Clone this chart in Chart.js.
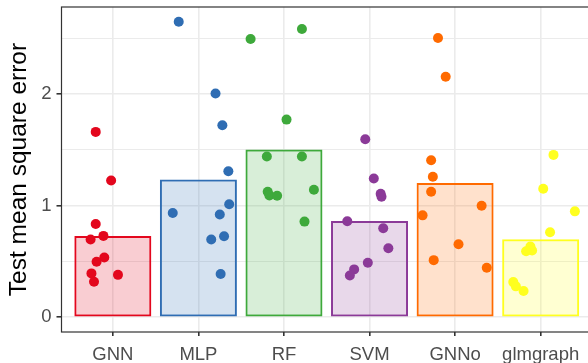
<!DOCTYPE html>
<html>
<head>
<meta charset="utf-8">
<script src="https://cdn.jsdelivr.net/npm/chart.js@4/dist/chart.umd.min.js"></script>
<style>
  html, body { margin: 0; padding: 0; background: #fff; overflow: hidden; }
  #wrap { width: 600px; height: 363px; }
</style>
</head>
<body>
<div id="wrap"><canvas id="c" width="600" height="363"></canvas></div>
<script>
// Model names along the x axis
const categories = ['GNN', 'MLP', 'RF', 'SVM', 'GNNo', 'glmgraph'];

// Mean test error per model (bar heights)
const barValues = [0.729, 1.235, 1.503, 0.863, 1.202, 0.699];

// Test error of each individual run, per model
const gnnRuns      = [1.661, 1.226, 0.836, 0.729, 0.696, 0.536, 0.497, 0.393, 0.380, 0.318];
const mlpRuns      = [2.648, 0.934, 2.005, 1.720, 1.309, 1.012, 0.920, 0.696, 0.726, 0.387];
const rfRuns       = [2.494, 2.583, 1.771, 1.440, 1.440, 1.125, 1.092, 1.089, 1.143, 0.857];
const svmRuns      = [1.595, 1.244, 1.107, 1.080, 0.860, 0.797, 0.619, 0.488, 0.429, 0.375];
const gnnoRuns     = [2.503, 2.155, 1.407, 1.259, 1.125, 1.000, 0.913, 0.654, 0.512, 0.443];
const glmgraphRuns = [1.455, 1.152, 0.949, 0.762, 0.634, 0.598, 0.592, 0.315, 0.277, 0.235];

// Horizontal jitter of each run around its category (in category units)
const gnnJitter      = [-0.20, -0.02, -0.20, -0.11, -0.26, -0.10, -0.19, -0.25, 0.06, -0.22];
const mlpJitter      = [-0.23, -0.30, 0.20, 0.28, 0.35, 0.36, 0.25, 0.15, 0.30, 0.26];
const rfJitter       = [-0.39, 0.21, 0.03, -0.20, 0.21, -0.19, -0.17, -0.08, 0.35, 0.24];
const svmJitter      = [-0.05, 0.05, 0.13, 0.14, -0.26, 0.16, 0.22, -0.02, -0.18, -0.23];
const gnnoJitter     = [-0.20, -0.11, -0.28, -0.26, -0.28, 0.31, -0.38, 0.04, -0.25, 0.37];
const glmgraphJitter = [0.15, 0.03, 0.40, 0.11, -0.12, -0.10, -0.17, -0.32, -0.29, -0.20];

// Y axis labelled ticks and minor gridlines
const yMajorTicks = [0, 1, 2];
const yMinorTicks = [0.5, 1.5, 2.5];

const runs = [gnnRuns, mlpRuns, rfRuns, svmRuns, gnnoRuns, glmgraphRuns];
const jitter = [gnnJitter, mlpJitter, rfJitter, svmJitter, gnnoJitter, glmgraphJitter];

const lineColors = ['#E3071D', '#2F6DB3', '#3EA93B', '#8B3A98', '#FF6A00', '#FFFF1F'];
const fillColors = ['rgba(227,7,29,0.2)', 'rgba(47,109,179,0.2)', 'rgba(62,169,59,0.2)',
                    'rgba(139,58,152,0.2)', 'rgba(255,106,0,0.2)', 'rgba(255,255,31,0.2)'];

const FONT = '"Liberation Sans", Arial, Helvetica, sans-serif';

const pointSets = runs.map((vals, i) => ({
  type: 'scatter',
  order: 0,
  data: vals.map((v, j) => ({ x: i + 1 + jitter[i][j], y: v })),
  backgroundColor: lineColors[i],
  borderWidth: 0,
  pointRadius: 5,
  pointHoverRadius: 5
}));

const barSet = {
  type: 'bar',
  order: 1,
  data: barValues.map((v, i) => ({ x: i + 1, y: v })),
  backgroundColor: fillColors,
  borderColor: lineColors,
  borderWidth: 2,
  borderSkipped: false,
  barPercentage: 0.9,
  categoryPercentage: 1.0
};

// Panel frame around the plotting area
const panelBorder = {
  id: 'panelBorder',
  afterDatasetsDraw(chart) {
    const a = chart.chartArea;
    const ctx = chart.ctx;
    ctx.save();
    ctx.strokeStyle = '#333333';
    ctx.lineWidth = 1.2;
    ctx.strokeRect(a.left, a.top, a.right - a.left, a.bottom - a.top);
    ctx.restore();
  }
};

const noEdgePadding = s => { s.paddingTop = 0; s.paddingBottom = 0; s.paddingLeft = 0; s.paddingRight = 0; };

new Chart(document.getElementById('c'), {
  type: 'scatter',
  data: { datasets: [...pointSets, barSet] },
  plugins: [panelBorder],
  options: {
    responsive: false,
    animation: false,
    events: [],
    layout: { padding: { top: 7, right: 8, left: 0, bottom: 0 } },
    plugins: { legend: { display: false }, tooltip: { enabled: false } },
    scales: {
      x: {
        type: 'linear',
        min: 0.4,
        max: 6.6,
        offset: false,
        afterBuildTicks: s => { s.ticks = categories.map((_, i) => ({ value: i + 1 })); },
        afterFit: s => { s.height = 31; noEdgePadding(s); },
        ticks: {
          callback: v => categories[Math.round(v) - 1],
          color: '#4D4D4D',
          font: { family: FONT, size: 18.5 },
          padding: 8,
          maxRotation: 0,
          autoSkip: false
        },
        grid: {
          offset: false,
          color: '#EBEBEB',
          lineWidth: 1.6,
          tickColor: '#333333',
          tickLength: 4
        },
        border: { display: false }
      },
      y: {
        type: 'linear',
        min: -0.132,
        max: 2.78,
        afterBuildTicks: s => {
          s.ticks = [...yMajorTicks, ...yMinorTicks].sort((a, b) => a - b).map(v => ({ value: v }));
        },
        afterFit: s => { s.width = 61.5; noEdgePadding(s); },
        ticks: {
          callback: v => (yMajorTicks.includes(v) ? String(v) : ''),
          color: '#4D4D4D',
          font: { family: FONT, size: 18.5 },
          padding: 5
        },
        grid: {
          color: '#EBEBEB',
          lineWidth: c => (yMajorTicks.includes(c.tick && c.tick.value) ? 1.6 : 1.0),
          tickColor: c => (yMajorTicks.includes(c.tick && c.tick.value) ? '#333333' : 'rgba(0,0,0,0)'),
          tickLength: 5
        },
        border: { display: false },
        title: {
          display: true,
          text: 'Test mean square error',
          color: '#000000',
          font: { family: FONT, size: 24.5 },
          padding: { top: 5, bottom: 0 }
        }
      }
    }
  }
});
</script>
</body>
</html>
